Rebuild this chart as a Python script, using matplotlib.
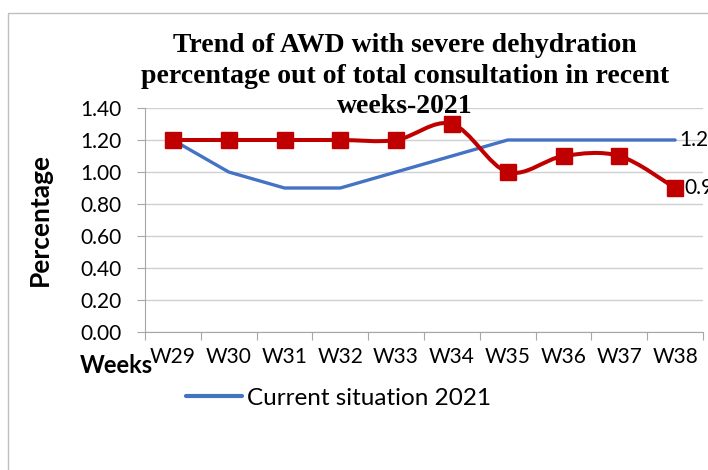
import numpy as np
import matplotlib
matplotlib.use("Agg")
import matplotlib.pyplot as plt
from matplotlib.path import Path
from matplotlib.patches import PathPatch, Rectangle
from matplotlib.lines import Line2D

# data
weeks = ["W29", "W30", "W31", "W32", "W33", "W34", "W35", "W36", "W37", "W38"]
current_2021 = [1.2, 1.0, 0.9, 0.9, 1.0, 1.1, 1.2, 1.2, 1.2, 1.2]
severe_pct = [1.2, 1.2, 1.2, 1.2, 1.2, 1.3, 1.0, 1.1, 1.1, 0.9]
y_ticks = [0.0, 0.2, 0.4, 0.6, 0.8, 1.0, 1.2, 1.4]

blue = "#4472C4"
red = "#C00000"

plt.rcParams['font.family'] = ['Lato', 'DejaVu Sans']

fig = plt.figure(figsize=(7.08, 4.70), dpi=100)
W, H = 708, 470
ax = fig.add_axes([145 / W, 1 - 332 / H, 558 / W, 224 / H])

x = np.arange(len(weeks))

# blue straight line
ax.plot(x, current_2021, color=blue, lw=2.4, solid_capstyle="round",
        zorder=3, label="Current situation 2021")


# red smoothed line (Excel-style bezier through the points)
def smooth_path(xs, ys):
    pts = np.column_stack([xs, ys]).astype(float)
    verts = [pts[0]]
    codes = [Path.MOVETO]
    n = len(pts)
    for i in range(n - 1):
        p0 = pts[max(i - 1, 0)]
        p1 = pts[i]
        p2 = pts[i + 1]
        p3 = pts[min(i + 2, n - 1)]
        c1 = p1 + (p2 - p0) / 6.0
        c2 = p2 - (p3 - p1) / 6.0
        verts += [c1, c2, p2]
        codes += [Path.CURVE4] * 3
    return Path(verts, codes)


ax.add_patch(PathPatch(smooth_path(x, severe_pct), facecolor="none",
                       edgecolor=red, lw=2.9, zorder=4))
ax.plot(x, severe_pct, linestyle="none", marker="s", markersize=12,
        color=red, zorder=5)

# end labels
ax.annotate(f"{current_2021[-1]:g}", (x[-1], current_2021[-1]),
            xytext=(3, 0), textcoords="offset points", va="center",
            fontsize=15, annotation_clip=False)
ax.annotate(f"{severe_pct[-1]:g}", (x[-1], severe_pct[-1]),
            xytext=(7, 0), textcoords="offset points", va="center",
            fontsize=15, annotation_clip=False)

# axes styling
ax.set_xlim(-0.5, len(weeks) - 0.5)
ax.set_ylim(0, 1.4)
ax.set_yticks(y_ticks)
ax.set_yticklabels([f"{v:.2f}" for v in y_ticks], fontsize=15)
ax.grid(axis="y", color="#D0D0D0", lw=1)
ax.set_axisbelow(True)
ax.set_xticks(np.arange(-0.5, len(weeks), 1.0))
ax.set_xticklabels([])
ax.set_xticks(x, minor=True)
ax.set_xticklabels(weeks, minor=True, fontsize=15)
ax.tick_params(axis="x", which="major", length=6, color="#A6A6A6", direction="out")
ax.tick_params(axis="x", which="minor", length=0, pad=11)
ax.tick_params(axis="y", length=6, color="#A6A6A6", pad=11)
for side in ["top", "right"]:
    ax.spines[side].set_visible(False)
for side in ["left", "bottom"]:
    ax.spines[side].set_color("#A6A6A6")

# axis titles
fig.text(40 / W, 1 - 220 / H, "Percentage", rotation=90, fontsize=19,
         fontweight="bold", ha="center", va="center")
fig.text(153 / W, 1 - 373 / H, "Weeks", fontsize=17, fontweight="bold",
         ha="right", va="baseline")

# chart title
fig.text(405 / W, 1 - 33 / H,
         "Trend of AWD with severe dehydration\n"
         "percentage out of total consultation in recent\n"
         "weeks-2021",
         fontsize=20, fontweight="bold", family="Liberation Serif",
         ha="center", va="top", linespacing=1.3, zorder=10)

# legend (only the blue series)
handle = Line2D([], [], color=blue, lw=3, solid_capstyle="round")
fig.legend([handle], ["Current situation 2021"], loc="center left",
           bbox_to_anchor=(164 / W, 1 - 398 / H), frameon=False,
           fontsize=17.5, handlelength=2.3, handletextpad=0.2)

# chart border
fig.add_artist(Rectangle((8 / W, -0.1), 1.2, 1 - 13 / H + 0.1,
                         transform=fig.transFigure, fill=False,
                         edgecolor="#BFBFBF", lw=1))

fig.savefig("out.png", dpi=100)
